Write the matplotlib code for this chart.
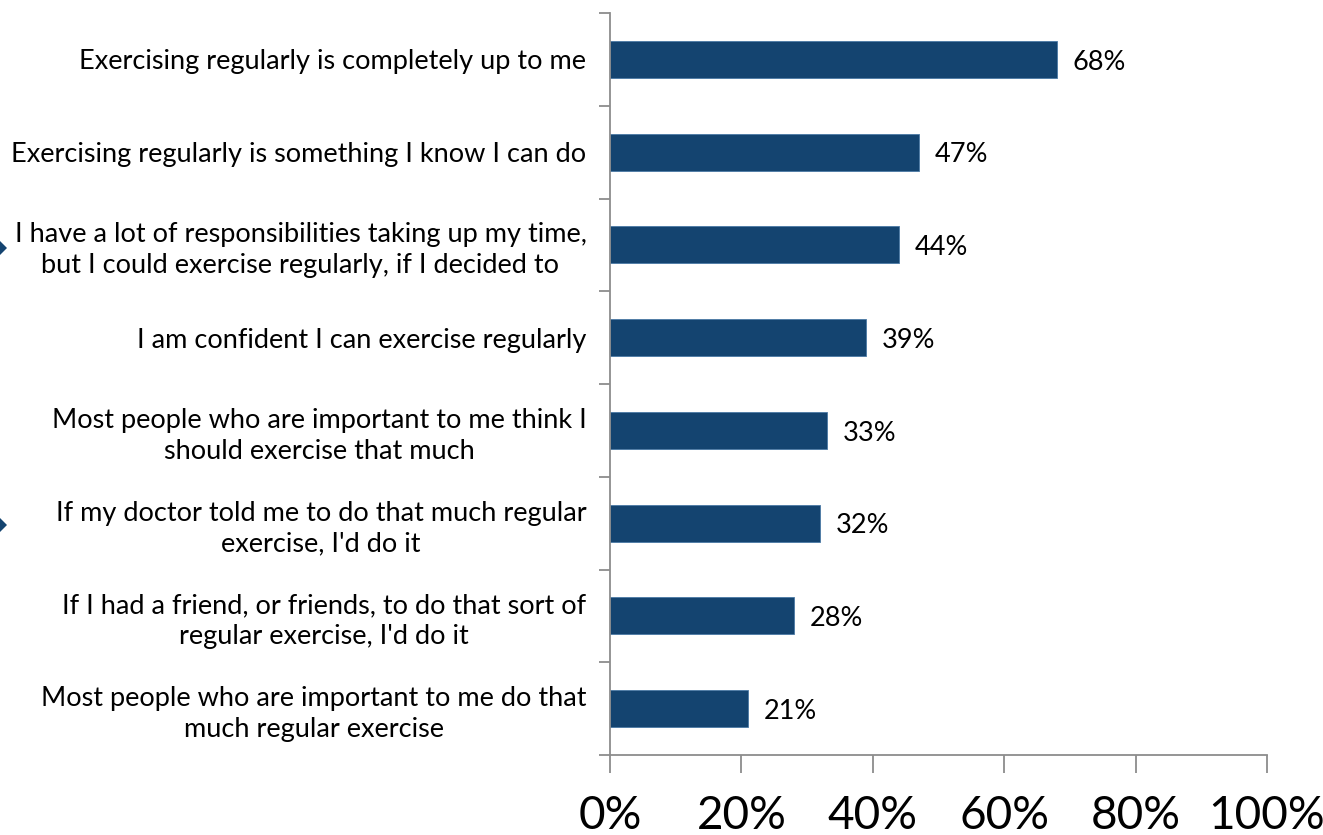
"""Horizontal bar chart: agreement with statements about regular exercise."""

import numpy as np
import matplotlib.pyplot as plt
from matplotlib.patches import Polygon
from matplotlib.ticker import FixedLocator, FuncFormatter

# Statements, top to bottom as drawn
statements = [
    "Exercising regularly is completely up to me",
    "Exercising regularly is something I know I can do",
    "I have a lot of responsibilities taking up my time,\nbut I could exercise regularly, if I decided to",
    "I am confident I can exercise regularly",
    "Most people who are important to me think I\nshould exercise that much",
    "If my doctor told me to do that much regular\nexercise, I'd do it",
    "If I had a friend, or friends, to do that sort of\nregular exercise, I'd do it",
    "Most people who are important to me do that\nmuch regular exercise",
]
agree_pct = [68, 47, 44, 39, 33, 32, 28, 21]
x_ticks = [0, 20, 40, 60, 80, 100]

BAR_COLOR = "#144470"
AXIS_COLOR = "#8c8c8c"
FONT = "Lato"

fig = plt.figure(figsize=(13.23, 8.35), dpi=100)
ax = fig.add_axes([610 / 1323, 80 / 835, 657 / 1323, 742 / 835])

n = len(statements)
y = np.arange(n)[::-1]
ax.barh(y, agree_pct, height=0.4, color=BAR_COLOR, edgecolor="#4a79a5", linewidth=0.6)

for yi, v in zip(y, agree_pct):
    ax.text(v + 2.4, yi - 0.03, f"{v}%", va="center", ha="left", fontsize=19.5,
            family=FONT, color="black")

ax.set_xlim(0, 100)
ax.set_ylim(-0.5, n - 0.5)

# y ticks sit on the category boundaries; the labels go on minor ticks
ax.yaxis.set_major_locator(FixedLocator(np.arange(n + 1) - 0.5))
ax.yaxis.set_major_formatter(FuncFormatter(lambda v, p: ""))
ax.set_yticks(y, minor=True)
ax.set_yticklabels(statements, minor=True, fontsize=19.5, family=FONT,
                   ha="right", multialignment="center", linespacing=1.3)
ax.tick_params(axis="y", which="minor", length=0, pad=17)
ax.tick_params(axis="y", which="major", length=8, width=1.3, color=AXIS_COLOR)

ax.set_xticks(x_ticks)
ax.set_xticklabels([f"{t}%" for t in x_ticks], fontsize=33, family=FONT)
ax.tick_params(axis="x", length=13, width=1.3, color=AXIS_COLOR, pad=16)

for side in ("top", "right"):
    ax.spines[side].set_visible(False)
for side in ("left", "bottom"):
    ax.spines[side].set_color(AXIS_COLOR)
    ax.spines[side].set_linewidth(1.3)

# cut-off arrow markers at the left edge
for cy in (248, 525):
    fy = 1 - cy / 835
    dx, dy = 11 / 1323, 11 / 835
    cx = -4 / 1323
    fig.patches.append(Polygon([(cx - dx, fy), (cx, fy + dy), (cx + dx, fy), (cx, fy - dy)],
                               closed=True, transform=fig.transFigure,
                               facecolor=BAR_COLOR, edgecolor="none"))

fig.savefig("out.png", dpi=100)
